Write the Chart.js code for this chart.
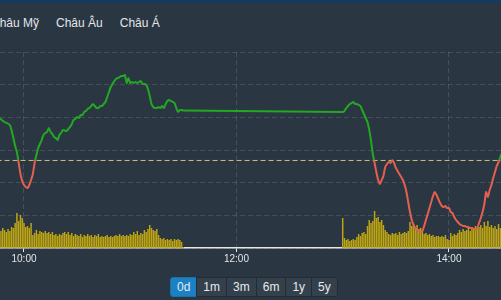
<!DOCTYPE html>
<html>
<head>
<meta charset="utf-8">
<script src="https://cdn.jsdelivr.net/npm/chart.js@4.4.0/dist/chart.umd.min.js"></script>
<style>
  html, body { margin: 0; padding: 0; }
  body {
    width: 501px; height: 300px; overflow: hidden; position: relative;
    background: #2a3641; font-family: "Liberation Sans", Arial, sans-serif;
  }
  .topbar { position: absolute; left: 0; top: 0; width: 501px; height: 3px; background: #163a5f; }
  .tabs { position: absolute; left: -9px; top: 13px; white-space: nowrap; }
  .tabs span { color: #e2e6ea; font-size: 12px; margin-right: 17px; }
  .chart-box { position: absolute; left: 0; top: 0; width: 501px; height: 266px; }
  .ranges { position: absolute; left: 170px; top: 277px; display: flex; }
  .ranges span {
    display: block; height: 18px; line-height: 18px; padding: 0 6px;
    font-size: 12px; color: #e6eaee; background: #34414d;
    border: 1px solid #222c36; margin-left: -1px;
  }
  .ranges span:first-child { margin-left: 0; border-radius: 3px 0 0 3px; }
  .ranges span:last-child { border-radius: 0 3px 3px 0; }
  .ranges span.active { background: #1b80c4; border-color: #1b70aa; }
</style>
</head>
<body>
<div class="topbar"></div>
<div class="tabs"><span>Châu Mỹ</span><span>Châu Âu</span><span>Châu Á</span></div>
<div class="chart-box"><canvas id="indexChart"></canvas></div>
<div class="ranges">
  <span class="active">0d</span><span>1m</span><span>3m</span><span>6m</span><span>1y</span><span>5y</span>
</div>

<script>
// intraday index

var refPrice = 3283.4;

var priceTimes = [
  '9:45', '9:46', '9:49', '9:52', '9:54', '9:55', '9:56', '9:57', '9:58', '9:59',
  '10:00', '10:01', '10:02', '10:03', '10:04', '10:05', '10:06', '10:07', '10:08', '10:09',
  '10:10', '10:11', '10:12', '10:13', '10:14', '10:15', '10:16', '10:17', '10:18', '10:19',
  '10:20', '10:21', '10:22', '10:24', '10:25', '10:26', '10:27', '10:28', '10:29',
  '10:30', '10:31', '10:32', '10:33', '10:34', '10:35', '10:36', '10:37', '10:38', '10:39',
  '10:40', '10:41', '10:42', '10:43', '10:44', '10:45', '10:46', '10:47', '10:48', '10:49',
  '10:50', '10:51', '10:52', '10:53', '10:54', '10:55', '10:56', '10:57', '10:58', '10:59',
  '11:00', '11:01', '11:02', '11:03', '11:04', '11:05', '11:06', '11:07', '11:08', '11:09',
  '11:10', '11:11', '11:12', '11:13', '11:14', '11:15', '11:16', '11:17', '11:18', '11:19',
  '11:20', '11:21', '11:22', '11:23', '11:24', '11:25', '11:26', '11:27', '11:28', '11:29',
  '11:30',
  '13:00', '13:01', '13:02', '13:03', '13:04', '13:05', '13:06', '13:07', '13:08', '13:09',
  '13:10', '13:11', '13:12', '13:13', '13:14', '13:15', '13:16', '13:17', '13:18', '13:19',
  '13:20', '13:21', '13:22', '13:23', '13:24', '13:25', '13:26', '13:27', '13:28', '13:29',
  '13:30', '13:31', '13:32', '13:33', '13:34', '13:35', '13:36', '13:37', '13:38', '13:39',
  '13:40', '13:41', '13:42', '13:43', '13:44', '13:45', '13:46', '13:47', '13:48', '13:49',
  '13:50', '13:51', '13:52', '13:53', '13:54', '13:55', '13:56', '13:57', '13:58', '13:59',
  '14:00', '14:01', '14:02', '14:03', '14:04', '14:05', '14:06', '14:07', '14:08', '14:09',
  '14:10', '14:11', '14:12', '14:13', '14:14', '14:15', '14:16', '14:17', '14:18', '14:19',
  '14:20', '14:21', '14:22', '14:23', '14:24', '14:25', '14:26', '14:27', '14:28', '14:29',
  '14:30'
];

var prices = [
  3290.05, 3289.90, 3289.29, 3288.83, 3286.84, 3285.61, 3284.69, 3283.01, 3281.33, 3280.26,
  3279.64, 3279.34, 3279.18, 3279.64, 3280.41, 3281.33, 3283.01, 3284.23, 3285.31, 3285.92,
  3286.53, 3287.30, 3287.60, 3287.76, 3288.37, 3287.76, 3287.45, 3286.99, 3286.84, 3286.53,
  3287.30, 3287.60, 3288.06, 3287.91, 3288.21, 3288.52, 3288.98, 3289.59, 3289.75,
  3290.05, 3289.90, 3290.36, 3290.36, 3290.82, 3290.97, 3291.28, 3291.43, 3291.73, 3292.04,
  3291.73, 3291.43, 3291.43, 3291.73, 3291.73, 3292.04, 3292.35, 3293.11, 3293.88, 3294.64,
  3295.10, 3295.56, 3295.87, 3296.02, 3296.17, 3296.33, 3296.33, 3296.48, 3295.26, 3296.02,
  3295.26, 3295.41, 3295.26, 3295.41, 3295.26, 3295.41, 3295.56, 3295.10, 3295.10, 3294.95,
  3294.34, 3293.27, 3292.04, 3291.58, 3291.43, 3291.43, 3291.58, 3291.43, 3291.73, 3291.43,
  3292.04, 3292.50, 3292.65, 3292.50, 3292.35, 3292.19, 3291.43, 3290.82, 3291.12, 3291.12,
  3291.04,
  3290.82, 3290.97, 3291.43, 3291.73, 3292.04, 3292.19, 3292.35, 3292.04, 3292.04, 3291.89,
  3291.73, 3291.12, 3290.51, 3289.90, 3289.29, 3288.06, 3286.38, 3284.39, 3283.01, 3281.63,
  3280.41, 3279.80, 3280.41, 3281.02, 3282.40, 3282.86, 3283.16, 3283.01, 3283.47, 3283.01,
  3282.25, 3281.79, 3281.33, 3280.87, 3280.41, 3279.64, 3278.57, 3277.04, 3275.51, 3274.29,
  3273.52, 3273.06, 3272.76, 3272.60, 3272.45, 3272.60, 3273.37, 3274.29, 3275.20, 3276.12,
  3277.04, 3277.96, 3278.57, 3278.11, 3277.50, 3276.89, 3276.43, 3276.28, 3276.43, 3276.12,
  3276.12, 3275.51, 3275.35, 3274.74, 3274.29, 3273.98, 3273.67, 3273.52, 3273.37, 3273.37,
  3273.21, 3273.21, 3273.06, 3273.06, 3272.91, 3272.91, 3273.06, 3273.83, 3274.59, 3275.51,
  3276.74, 3278.57, 3277.81, 3278.88, 3279.64, 3280.72, 3281.63, 3282.55, 3283.16, 3283.93,
  3284.54
];

var volumeTimes = [
  '9:44', '9:45', '9:46', '9:47', '9:48', '9:49', '9:50', '9:51', '9:52', '9:53', '9:54', '9:55', '9:56', '9:57', '9:58', '9:59',
  '10:00', '10:01', '10:02', '10:03', '10:04', '10:05', '10:06', '10:07', '10:08', '10:09',
  '10:10', '10:11', '10:12', '10:13', '10:14', '10:15', '10:16', '10:17', '10:18', '10:19',
  '10:20', '10:21', '10:22', '10:23', '10:24', '10:25', '10:26', '10:27', '10:28', '10:29',
  '10:30', '10:31', '10:32', '10:33', '10:34', '10:35', '10:36', '10:37', '10:38', '10:39',
  '10:40', '10:41', '10:42', '10:43', '10:44', '10:45', '10:46', '10:47', '10:48', '10:49',
  '10:50', '10:51', '10:52', '10:53', '10:54', '10:55', '10:56', '10:57', '10:58', '10:59',
  '11:00', '11:01', '11:02', '11:03', '11:04', '11:05', '11:06', '11:07', '11:08', '11:09',
  '11:10', '11:11', '11:12', '11:13', '11:14', '11:15', '11:16', '11:17', '11:18', '11:19',
  '11:20', '11:21', '11:22', '11:23', '11:24', '11:25', '11:26', '11:27', '11:28', '11:29',
  '11:30',
  '13:00', '13:01', '13:02', '13:03', '13:04', '13:05', '13:06', '13:07', '13:08', '13:09',
  '13:10', '13:11', '13:12', '13:13', '13:14', '13:15', '13:16', '13:17', '13:18', '13:19',
  '13:20', '13:21', '13:22', '13:23', '13:24', '13:25', '13:26', '13:27', '13:28', '13:29',
  '13:30', '13:31', '13:32', '13:33', '13:34', '13:35', '13:36', '13:37', '13:38', '13:39',
  '13:40', '13:41', '13:42', '13:43', '13:44', '13:45', '13:46', '13:47', '13:48', '13:49',
  '13:50', '13:51', '13:52', '13:53', '13:54', '13:55', '13:56', '13:57', '13:58', '13:59',
  '14:00', '14:01', '14:02', '14:03', '14:04', '14:05', '14:06', '14:07', '14:08', '14:09',
  '14:10', '14:11', '14:12', '14:13', '14:14', '14:15', '14:16', '14:17', '14:18', '14:19',
  '14:20', '14:21', '14:22', '14:23', '14:24', '14:25', '14:26', '14:27', '14:28', '14:29',
  '14:30'
];

// thousand shares per minute
var volumes = [
  900, 1000, 950, 850, 1000, 900, 800, 950, 850, 1050, 1000, 1250, 1750, 1350, 1650, 1500,
  1250, 1050, 1100, 1000, 1250, 650, 750, 900, 700, 850,
  800, 750, 850, 750, 800, 700, 800, 650, 700, 600,
  700, 650, 750, 800, 700, 800, 650, 750, 600, 700,
  650, 600, 700, 550, 650, 600, 700, 600, 650, 550,
  650, 600, 700, 550, 600, 550, 600, 650, 550, 600,
  550, 600, 650, 600, 700, 600, 650, 600, 650, 600,
  700, 650, 800, 700, 850, 650, 750, 700, 900, 800,
  950, 1150, 1000, 900, 850, 950, 650, 500, 450, 500,
  400, 450, 400, 450, 350, 450, 400, 450, 400, 300,
  50,
  1500, 500, 400, 450, 350, 400, 450, 400, 550, 700,
  600, 750, 800, 700, 1100, 1400, 1250, 1350, 1850, 1500,
  1550, 1300, 1400, 1150, 900, 800, 700, 650, 750, 700,
  750, 650, 800, 700, 750, 800, 750, 850, 1300, 1100,
  1200, 1050, 1150, 950, 1000, 850, 700, 750, 650, 700,
  600, 650, 550, 600, 600, 550, 600, 550, 650, 450,
  400, 750, 600, 700, 650, 750, 900, 800, 950, 850,
  900, 1000, 850, 1050, 950, 1100, 1000, 1050, 1150, 1000,
  1300, 1100, 1350, 1050, 1150, 1000, 1100, 950, 1200, 1000,
  1100
];

var tickTimes = ['10:00', '12:00', '14:00'];

var upColor   = '#23a823';
var downColor = '#e4604e';

function toMinutes(t) {
  var p = t.split(':');
  return parseInt(p[0], 10) * 60 + parseInt(p[1], 10);
}
function toLabel(m) {
  var h = Math.floor(m / 60), mm = Math.round(m % 60);
  return h + ':' + (mm < 10 ? '0' : '') + mm;
}

var pricePoints = priceTimes.map(function (t, i) { return {x: toMinutes(t), y: prices[i]}; });
var volumePoints = volumeTimes.map(function (t, i) { return {x: toMinutes(t), y: volumes[i]}; });
var refPoints = [{x: 580, y: refPrice}, {x: 880, y: refPrice}];

// green above the reference close, red below it
function lineColor(ctx) {
  var chart = ctx.chart, area = chart.chartArea;
  if (!area) return upColor;
  var yRef = chart.scales.y.getPixelForValue(refPrice);
  var stop = (yRef - area.top) / (area.bottom - area.top);
  stop = Math.min(1, Math.max(0, stop));
  var g = chart.ctx.createLinearGradient(0, area.top, 0, area.bottom);
  g.addColorStop(0, upColor);
  g.addColorStop(stop, upColor);
  g.addColorStop(stop, downColor);
  g.addColorStop(1, downColor);
  return g;
}

var ctx = document.getElementById('indexChart').getContext('2d');
var indexChart = new Chart(ctx, {
  data: {
    datasets: [
      {
        type: 'line',
        data: refPoints,
        yAxisID: 'y',
        borderColor: '#c9c27a',
        borderWidth: 1,
        borderDash: [5, 3],
        pointRadius: 0,
        order: 1
      },
      {
        type: 'line',
        data: pricePoints,
        yAxisID: 'y',
        borderColor: lineColor,
        borderWidth: 2,
        tension: 0.2,
        pointRadius: 0,
        order: 0
      },
      {
        type: 'bar',
        data: volumePoints,
        yAxisID: 'vol',
        backgroundColor: '#bda513',
        barPercentage: 0.85,
        categoryPercentage: 1.0,
        order: 2
      }
    ]
  },
  options: {
    responsive: true,
    maintainAspectRatio: false,
    animation: false,
    layout: { padding: { top: 52, left: 0, right: 0, bottom: 0 } },
    plugins: { legend: { display: false }, tooltip: { enabled: false } },
    scales: {
      x: {
        type: 'linear',
        offset: false,
        min: 586.45,
        max: 869.4,
        afterBuildTicks: function (scale) {
          scale.ticks = tickTimes.map(function (t) { return {value: toMinutes(t)}; });
        },
        ticks: {
          color: '#e2e6ea',
          font: { size: 10, family: '"Liberation Sans", Arial, sans-serif' },
          padding: 1,
          maxRotation: 0,
          autoSkip: false,
          callback: function (v) { return toLabel(v); }
        },
        grid: {
          offset: false,
          color: 'rgba(255,255,255,0.13)',
          tickColor: '#e8e8e8',
          tickLength: 4
        },
        border: { display: true, color: '#e6e6e6', width: 1.5, dash: [5, 3] }
      },
      y: {
        position: 'left',
        min: 3270,
        max: 3300,
        ticks: { display: false, stepSize: 5 },
        grid: { color: 'rgba(255,255,255,0.12)', drawTicks: false },
        border: { display: false, dash: [5, 3] }
      },
      vol: {
        position: 'right',
        display: false,
        min: 0,
        max: 9800
      }
    }
  }
});
</script>
</body>
</html>
